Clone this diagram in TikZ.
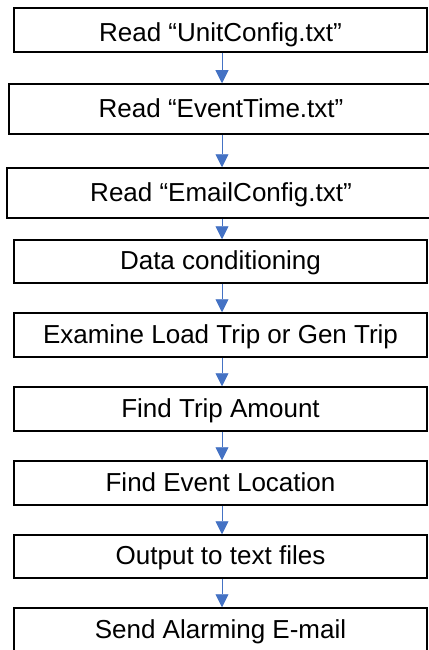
\documentclass[tikz,border=0pt]{standalone}
\usepackage{fontspec}
\setmainfont{Liberation Sans}
\usetikzlibrary{arrows.meta}
\definecolor{flowblue}{RGB}{68,114,196}
\begin{document}
\begin{tikzpicture}[x=1pt,y=-1pt,
  stepbox/.style={draw=black,line width=1.5pt,rectangle,inner sep=0pt,
    text height=18.6pt,text depth=2pt,
    font=\fontsize{26}{30}\selectfont},
  flowarrow/.style={draw=flowblue,line width=0.9pt,
    -{Triangle[width=13pt,length=13pt]},color=flowblue}]
\useasboundingbox (0,0) rectangle (428,650);
\coordinate (col) at (222,0);
% process steps: centre x, centre y, width, height
\node[stepbox,text height=26pt,minimum width=413pt,minimum height=44pt] (b1) at (220.5,30) {Read “UnitConfig.txt”};
\node[stepbox,minimum width=424pt,minimum height=50pt] (b2) at (221,109) {Read “EventTime.txt”};
\node[stepbox,minimum width=428pt,minimum height=50pt] (b3) at (221,193) {Read “EmailConfig.txt”};
\node[stepbox,minimum width=413pt,minimum height=43pt] (b4) at (220.5,261.5) {Data conditioning};
\node[stepbox,minimum width=413pt,minimum height=44pt] (b5) at (220.5,335) {Examine Load Trip or Gen Trip};
\node[stepbox,minimum width=413pt,minimum height=44pt] (b6) at (220.5,409) {Find Trip Amount};
\node[stepbox,minimum width=413pt,minimum height=44pt] (b7) at (220.5,483) {Find Event Location};
\node[stepbox,minimum width=413pt,minimum height=43pt] (b8) at (220.5,556.5) {Output to text files};
\node[stepbox,minimum width=413pt,minimum height=44pt] (b9) at (220.5,630) {Send Alarming E-mail};
% connectors
\foreach \a/\b in {b1/b2,b2/b3,b3/b4,b4/b5,b5/b6,b6/b7,b7/b8,b8/b9}
  \draw[flowarrow] (\a.south -| col) -- (\b.north -| col);
\end{tikzpicture}
\end{document}
